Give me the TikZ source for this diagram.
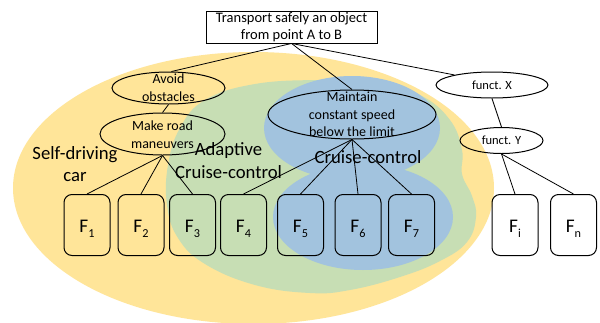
\documentclass[tikz,border=0pt]{standalone}
\usepackage{fontspec}
\setmainfont{Carlito}
\usetikzlibrary{shapes.geometric}
\definecolor{cyel}{RGB}{255,229,153}
\definecolor{cgrn}{RGB}{199,222,180}
\definecolor{cblu}{RGB}{162,195,222}
\newcommand\fsub[1]{\raisebox{-4.3pt}{\fontsize{12.2}{13}\selectfont #1}}
\begin{document}
\begin{tikzpicture}[x=1pt,y=-1pt,
  ell/.style={draw, ellipse, line width=1pt, inner sep=0pt},
  etxt/.style={align=center, inner sep=0pt, font=\fontsize{14}{17.5}\selectfont},
  ftxt/.style={inner sep=0pt, font=\fontsize{12.5}{14}\selectfont},
  big/.style={align=center, inner sep=0pt, font=\fontsize{18.7}{22.5}\selectfont},
  fbox/.style={draw, rounded corners=8pt, minimum width=46pt, minimum height=61pt,
    inner sep=0pt, line width=1pt, font=\fontsize{19.3}{20}\selectfont,
    text height=15.4pt, text depth=0pt},
  conn/.style={line width=0.8pt}]
\useasboundingbox (0,0) rectangle (600,322);
\fill[white] (0,0) rectangle (600,322);
% regions
\fill[cyel] (253.5,188) ellipse [x radius=240.5, y radius=136];
\fill[cgrn] plot[smooth cycle, tension=0.7] coordinates {
  (320,80) (375,82) (420,95) (450,120) (462,150) (462,174) (472,196) (476,217)
  (467,242) (440,261) (400,277) (350,290) (310,293) (255,285) (205,264)
  (178,238) (167,205) (168,165) (180,128) (205,100) (255,84)};
\fill[cblu] (352,128) ellipse [x radius=88, y radius=52];
\fill[cblu] (363,217) ellipse [x radius=90, y radius=53];
% nodes
\node[draw, line width=0.9pt, minimum width=171pt, minimum height=32pt, inner sep=0pt,
  align=center, font=\fontsize{14.5}{17.5}\selectfont] (top) at (291.5,27)
  {Transport safely an object\\from point A to B};
\node[ell, minimum width=113pt, minimum height=32pt] (avoid) at (168.5,88) {};
\node[etxt] (avoidt) at (168.5,87.5) {Avoid\\obstacles};
\node[ell, minimum width=125pt, minimum height=42pt] (make) at (162.5,134) {};
\node[etxt] (maket) at (162.5,134.5) {Make road\\maneuvers};
\node[ell, minimum width=168pt, minimum height=49pt] (maint) at (352,114.5) {};
\node[etxt] (maintt) at (352,114.5) {Maintain\\constant speed\\below the limit};
\node[ell, minimum width=112pt, minimum height=26pt] (fx) at (492,85) {};
\node[ftxt] (fxt) at (492,85) {funct. X};
\node[ell, minimum width=83pt, minimum height=26pt] (fy) at (501.5,140.5) {};
\node[ftxt] (fyt) at (501.5,140.5) {funct. Y};
\node[fbox] (f1) at (87,225) {F\fsub{1}};
\node[fbox] (f2) at (141,225) {F\fsub{2}};
\node[fbox] (f3) at (192.5,225) {F\fsub{3}};
\node[fbox] (f4) at (243.5,225) {F\fsub{4}};
\node[fbox] (f5) at (300.5,225) {F\fsub{5}};
\node[fbox] (f6) at (358,225) {F\fsub{6}};
\node[fbox] (f7) at (411.5,225) {F\fsub{7}};
\node[fbox] (fi) at (515,225) {F\fsub{i}};
\node[fbox] (fn) at (573.5,225) {F\fsub{n}};
% connectors
\draw[conn] (top.south) -- (avoid.80);
\draw[conn] (top.south) -- (maint.north);
\draw[conn] (top.south) -- (fx.165);
\draw[conn] (avoid.south) -- (make.north);
\draw[conn] (make.south) -- (f1.north);
\draw[conn] (make.south) -- (f2.north);
\draw[conn] (make.south) -- (f3.north);
\draw[conn] (maint.south) -- (f4.north);
\draw[conn] (maint.south) -- (f5.north);
\draw[conn] (maint.south) -- (f6.north);
\draw[conn] (maint.south) -- (f7.north);
\draw[conn] (fx.south) -- (fy.north);
\draw[conn] (fy.south) -- (fi.north);
\draw[conn] (fy.south) -- (fn.north);
% region labels
\node[big] (sdc) at (75,164) {Self-driving\\car};
\node[big] (acc) at (228.5,160.5) {Adaptive\\Cruise-control};
\node[big, anchor=base] (cc) at (368,163) {Cruise-control};
\end{tikzpicture}
\end{document}
